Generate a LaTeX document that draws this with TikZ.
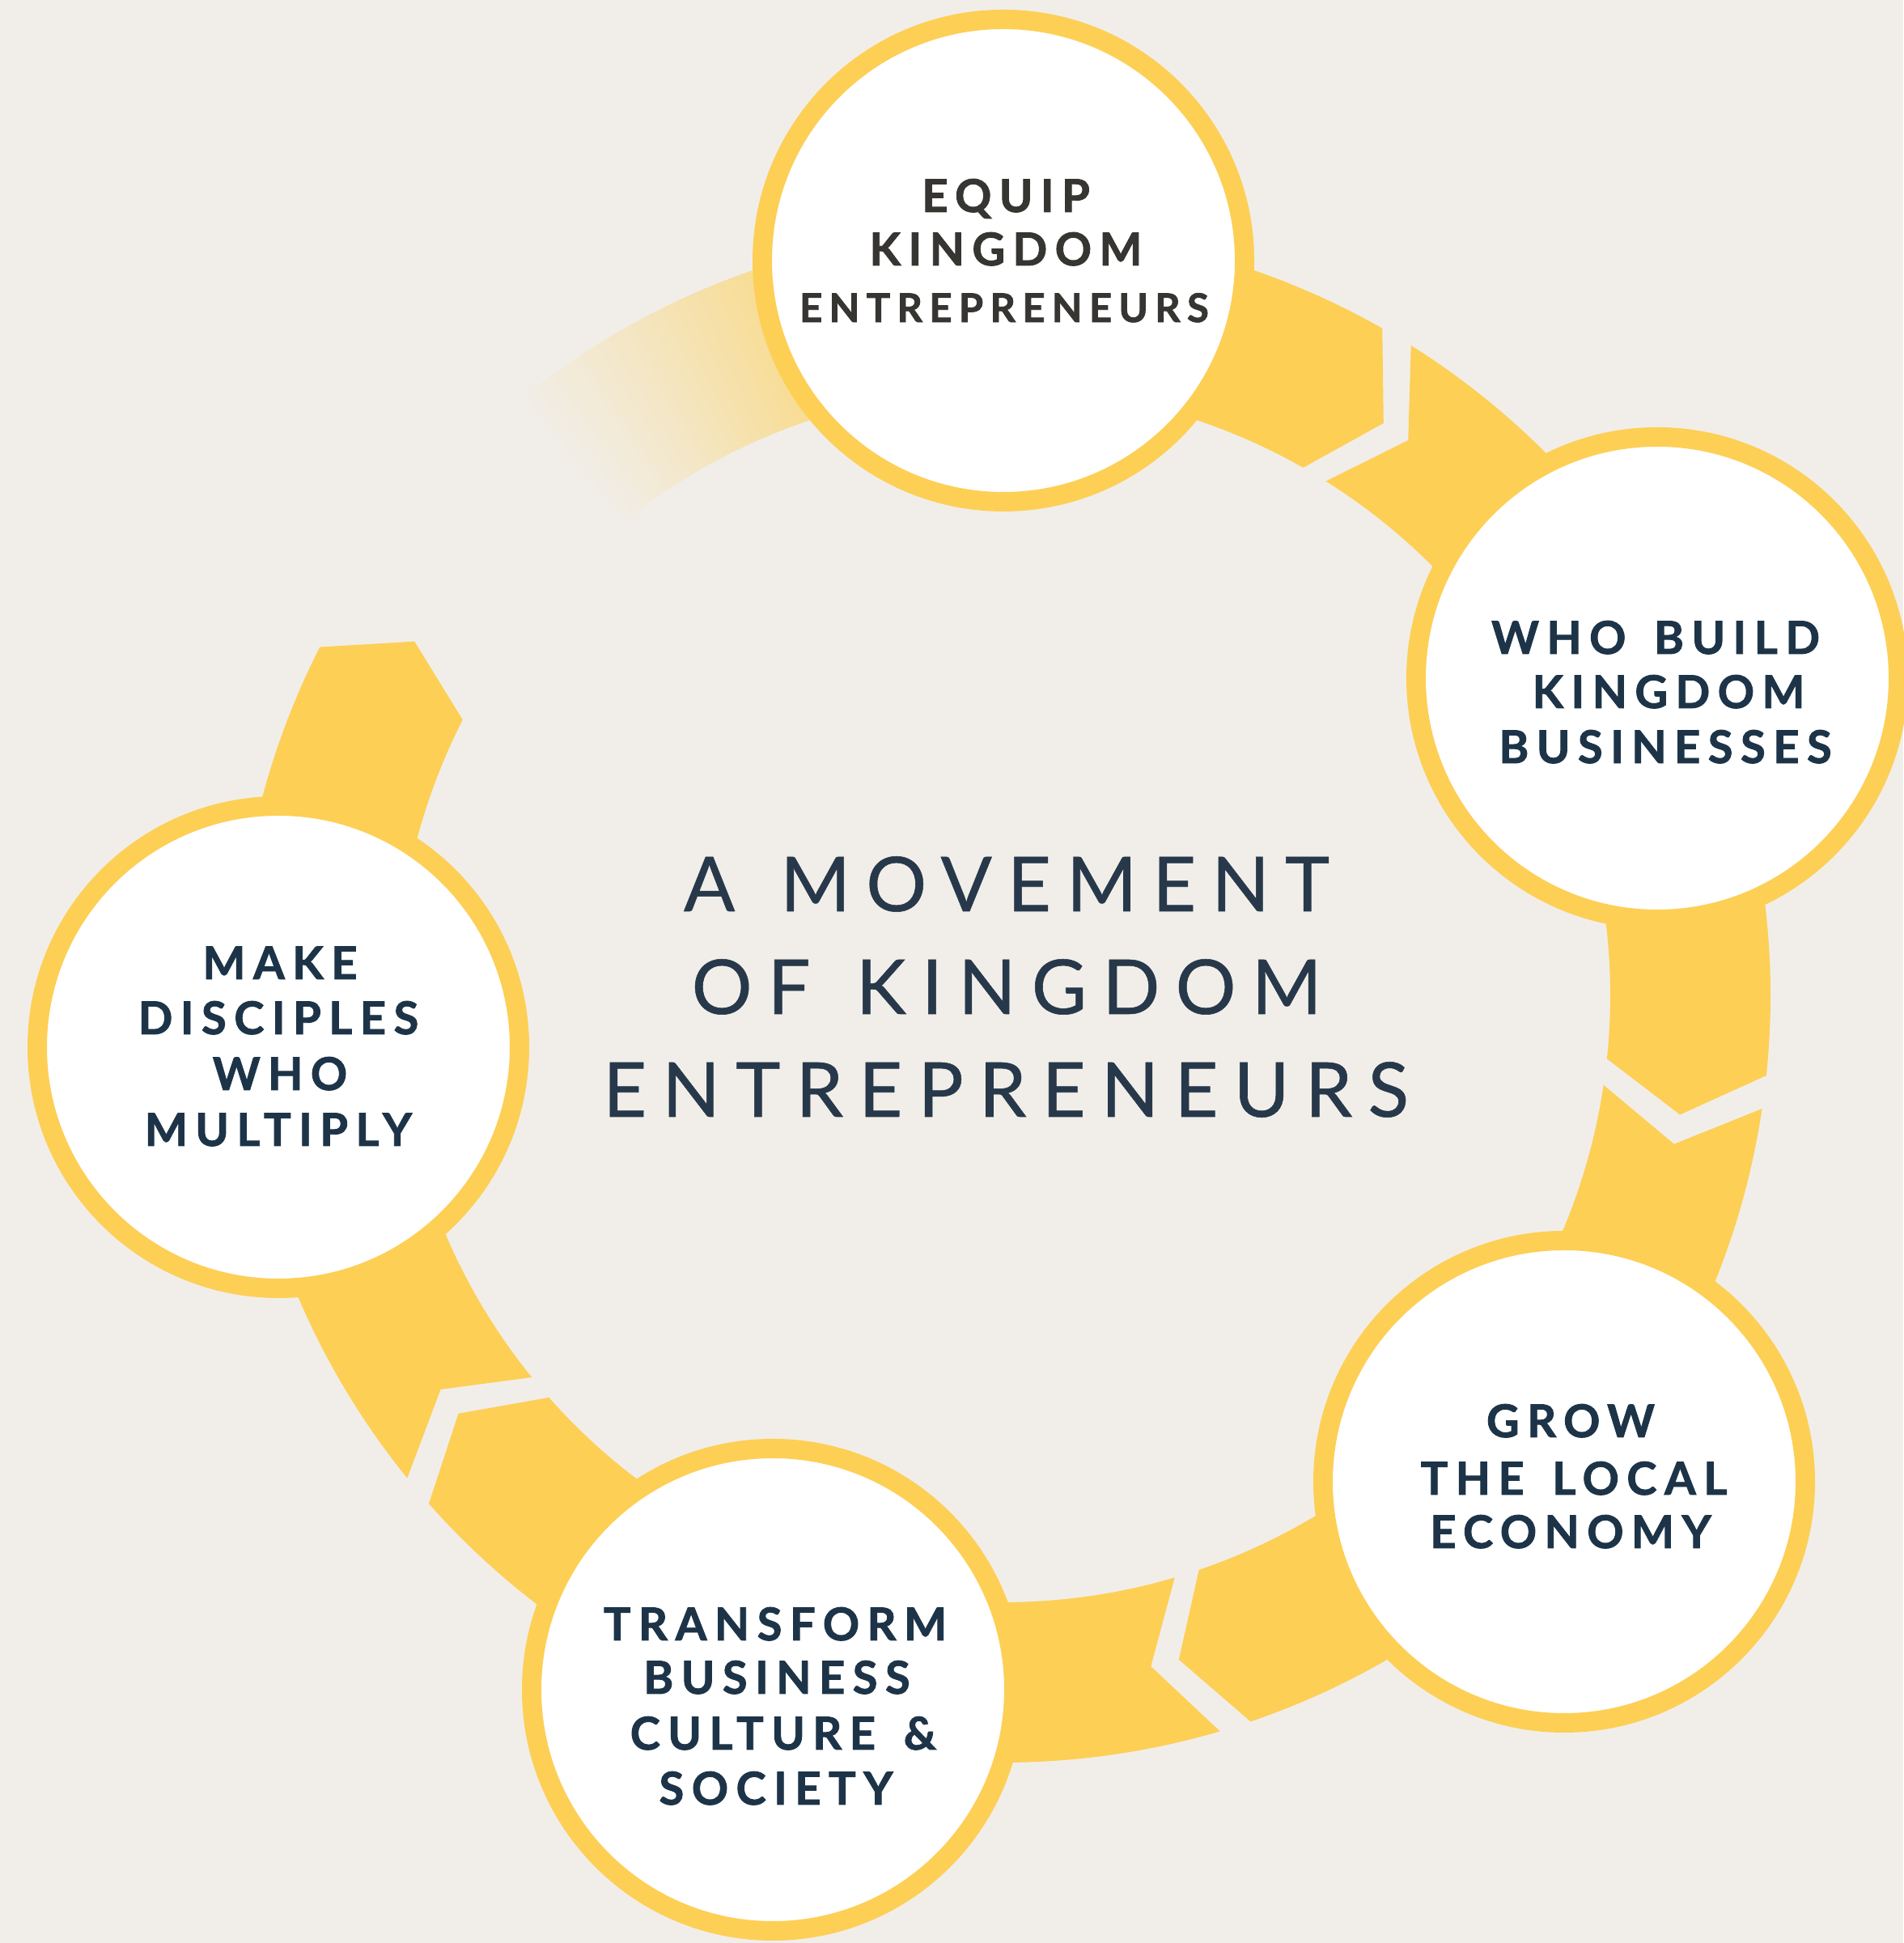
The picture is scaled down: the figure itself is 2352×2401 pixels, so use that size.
\documentclass[tikz,border=0pt]{standalone}
\usepackage{fontspec}
\setmainfont{Lato}
\newfontfamily\circfont[LetterSpace=17,WordSpace=1.5,BoldFeatures={FakeBold=1.6}]{Lato}
\newfontfamily\titlefont[LetterSpace=20.5,FakeBold=0.6,WordSpace=1.3]{Lato}
\usetikzlibrary{calc}
\definecolor{bg}{HTML}{F1EEE9}
\definecolor{yel}{HTML}{FDCF55}
\definecolor{navy}{HTML}{1D3448}
\definecolor{darkgray}{HTML}{363532}
\definecolor{titlecol}{HTML}{27384A}
\def\Ro{948}
\def\Ri{750}
\def\Rm{849}
\def\tipang{4}
% piece with flat start (under a circle) and chevron tip at its end
\newcommand{\pieceTip}[2]{%
  \fill[yel] ($(C)+(#1:\Ro)$) arc[start angle=#1,end angle=#2,radius=\Ro]
    -- ($(C)+({#2-\tipang}:\Rm)$) -- ($(C)+(#2:\Ri)$)
    arc[start angle=#2,end angle=#1,radius=\Ri] -- cycle;}
% piece with notched start and flat end (under a circle)
\newcommand{\pieceNotch}[2]{%
  \fill[yel] ($(C)+(#1:\Ro)$) arc[start angle=#1,end angle=#2,radius=\Ro]
    -- ($(C)+(#2:\Ri)$) arc[start angle=#2,end angle=#1,radius=\Ri]
    -- ($(C)+({#1-\tipang}:\Rm)$) -- cycle;}
\tikzset{
  stage/.style={circle,fill=white,draw=yel,line width=12pt,minimum size=298pt,inner sep=0pt},
  ctext/.style={anchor=base,inner sep=0pt,text=navy,font=\circfont\bfseries\fontsize{28pt}{33pt}\selectfont},
  ttext/.style={anchor=base,inner sep=0pt,text=titlecol,font=\titlefont\fontsize{46.75pt}{60pt}\selectfont}
}
\begin{document}
\begin{tikzpicture}[x=0.5pt,y=0.5pt]
\useasboundingbox (0,0) rectangle (2352,2401);
\fill[bg] (0,0) rectangle (2352,2401);
\coordinate (C) at (1240,1171);
% faded band
\foreach \i in {0,...,79}{
  \pgfmathsetmacro\ta{130-\i*0.5}
  \pgfmathsetmacro\tb{\ta-0.7}
  \pgfmathsetmacro\f{min(100,100*(\i*0.5/34)^1.15)}
  \fill[yel!\f!bg] ($(C)+(\ta:\Ri)$) arc[start angle=\ta,end angle=\tb,radius=\Ri]
     -- ($(C)+(\tb:\Ro)$) arc[start angle=\tb,end angle=\ta,radius=\Ro] -- cycle;
}
% band pieces
\pieceTip{90}{60.4}
\pieceNotch{57.9}{25.9}
\pieceTip{25.9}{-6}
\pieceNotch{-8.5}{-40.9}
\pieceTip{-40.9}{-71.2}
\pieceNotch{-73.6}{-108.4}
\pieceTip{-108.4}{-138.5}
\pieceNotch{-141}{-175.9}
\pieceTip{184.1}{153}
% circles
\node[stage] (c1) at (1240,2079) {};
\node[stage] (c2) at (2048,1563) {};
\node[stage] (c3) at (1933,570) {};
\node[stage] (c4) at (955,313) {};
\node[stage] (c5) at (344,1107) {};
% top circle text
\node[ctext,text=darkgray] (t1a) at (1243,2139) {EQUIP};
\node[ctext,text=darkgray] (t1b) at (1243,2073) {KINGDOM};
\node[ctext,text=darkgray,font=\circfont\bfseries\fontsize{24.5pt}{30pt}\selectfont] (t1c) at (1241,2003) {ENTREPRENEURS};
% right circle text
\node[ctext] (t2a) at (2046,1593) {WHO BUILD};
\node[ctext] (t2b) at (2062,1526) {KINGDOM};
\node[ctext] (t2c) at (2058,1458) {BUSINESSES};
% bottom-right circle text
\node[ctext] (t3a) at (1941,625) {GROW};
\node[ctext] (t3b) at (1945,554) {THE LOCAL};
\node[ctext] (t3c) at (1941,488) {ECONOMY};
% bottom circle text
\node[ctext] (t4a) at (958,374) {TRANSFORM};
\node[ctext] (t4b) at (960,308) {BUSINESS};
\node[ctext] (t4c) at (968,239) {CULTURE \&};
\node[ctext] (t4d) at (959,171) {SOCIETY};
% left circle text
\node[ctext] (t5a) at (346,1191) {MAKE};
\node[ctext] (t5b) at (344,1123) {DISCIPLES};
\node[ctext] (t5c) at (346,1054) {WHO};
\node[ctext] (t5d) at (344,985) {MULTIPLY};
% title
\node[ttext] (ta) at (1244,1275) {A MOVEMENT};
\node[ttext] (tb) at (1244,1148) {OF KINGDOM};
\node[ttext] (tc) at (1243,1021) {ENTREPRENEURS};
\end{tikzpicture}
\end{document}
